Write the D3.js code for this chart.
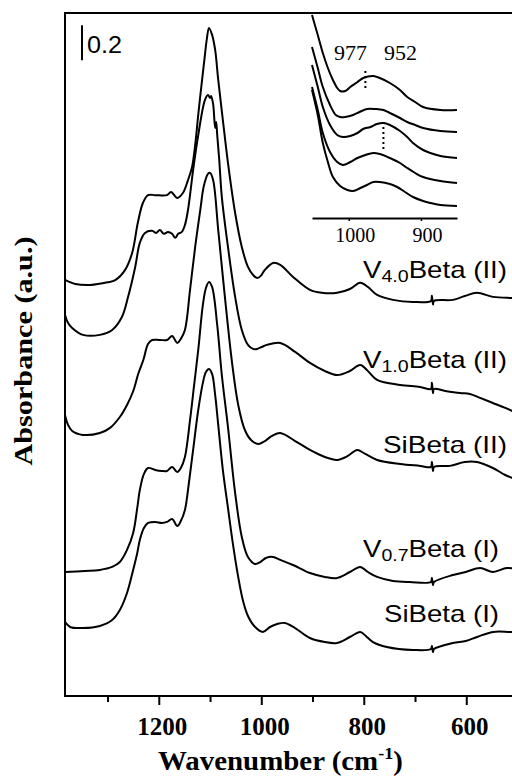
<!DOCTYPE html>
<html><head><meta charset="utf-8">
<script src="https://cdn.jsdelivr.net/npm/d3@7"></script>
<style>body{margin:0;background:#fff}svg{display:block}</style>
</head><body><svg id="c" width="512" height="776"></svg>
<script>
// ---------- data ----------
const labelBase = ["V", "V", "Si", "V", "Si"];
const labelSub  = ["4.0", "1.0", "", "0.7", ""];
const labelTail = ["Beta (II)", "Beta (II)", "Beta (II)", "Beta (I)", "Beta (I)"];
const xTicksMajor = [1200, 1000, 800, 600];
const xTicksMinor = [1300, 1100, 900, 700, 500];
const insetTicks = [1000, 900];
const insetMarks = [977, 952];
const insetMarkTop = [1.47, 0.96];
const insetMarkBottom = [1.30, 0.67];
const scaleBarValue = 0.2;

// [wavenumber, absorbance (offset)]
const sV40II = [[1383,2.376],[1363,2.353],[1334,2.347],[1300,2.362],[1285,2.375],[1266,2.432],[1252,2.530],[1241,2.701],[1231,2.815],[1221,2.860],[1207,2.860],[1184,2.860],[1176,2.878],[1164,2.844],[1153,2.872],[1143,2.946],[1135,3.021],[1129,3.146],[1123,3.318],[1116,3.506],[1110,3.660],[1106,3.757],[1102,3.815],[1096,3.775],[1090,3.689],[1084,3.518],[1075,3.290],[1065,3.044],[1051,2.758],[1038,2.564],[1026,2.450],[1016,2.404],[1008,2.387],[1001,2.399],[993,2.433],[977,2.473],[963,2.462],[938,2.393],[905,2.319],[882,2.302],[852,2.302],[827,2.324],[807,2.359],[792,2.336],[774,2.290],[743,2.262],[704,2.250],[669,2.256],[667,2.285],[665,2.235],[663,2.256],[626,2.262],[603,2.284],[579,2.302],[548,2.279],[515,2.273],[501,2.273]];
const sV10II = [[1383,2.176],[1377,2.130],[1369,2.102],[1348,2.062],[1315,2.062],[1291,2.090],[1272,2.164],[1260,2.278],[1246,2.450],[1237,2.587],[1227,2.644],[1213,2.656],[1205,2.644],[1198,2.661],[1190,2.639],[1182,2.650],[1174,2.639],[1168,2.616],[1162,2.639],[1155,2.650],[1149,2.689],[1143,2.775],[1133,3.003],[1123,3.203],[1110,3.403],[1104,3.432],[1100,3.415],[1098,3.426],[1094,3.381],[1090,3.244],[1088,3.278],[1086,3.204],[1082,3.061],[1077,2.850],[1065,2.564],[1051,2.279],[1038,2.090],[1026,2.005],[1016,1.982],[1008,1.982],[999,1.993],[989,2.005],[963,2.016],[934,1.965],[905,1.902],[876,1.856],[852,1.833],[827,1.856],[807,1.890],[792,1.856],[774,1.805],[729,1.776],[690,1.765],[669,1.753],[667,1.788],[665,1.730],[663,1.753],[641,1.742],[612,1.730],[593,1.725],[573,1.702],[548,1.673],[524,1.645],[501,1.616]];
const sSiII = [[1383,1.605],[1377,1.548],[1369,1.513],[1348,1.491],[1315,1.502],[1295,1.531],[1276,1.593],[1262,1.662],[1250,1.740],[1240,1.840],[1230,1.920],[1221,2.010],[1213,2.033],[1198,2.033],[1184,2.033],[1174,2.056],[1164,2.016],[1157,2.039],[1149,2.090],[1139,2.319],[1129,2.564],[1119,2.776],[1112,2.913],[1104,2.981],[1100,2.987],[1094,2.947],[1084,2.661],[1071,2.279],[1057,1.902],[1045,1.662],[1032,1.519],[1020,1.462],[1006,1.439],[993,1.456],[979,1.485],[963,1.502],[934,1.456],[905,1.405],[876,1.365],[852,1.348],[831,1.371],[813,1.405],[797,1.382],[774,1.348],[729,1.325],[690,1.314],[669,1.308],[667,1.336],[665,1.285],[663,1.308],[632,1.314],[603,1.336],[579,1.336],[548,1.302],[524,1.262],[501,1.234]];
const sV07I = [[1383,0.708],[1344,0.714],[1315,0.720],[1291,0.737],[1276,0.765],[1262,0.834],[1250,0.931],[1242,1.074],[1237,1.176],[1229,1.268],[1221,1.302],[1207,1.291],[1194,1.285],[1184,1.285],[1174,1.308],[1164,1.279],[1157,1.302],[1149,1.365],[1139,1.576],[1131,1.776],[1123,1.976],[1114,2.233],[1108,2.330],[1102,2.364],[1096,2.336],[1086,2.119],[1077,1.833],[1065,1.536],[1051,1.159],[1038,0.908],[1026,0.794],[1012,0.754],[1002,0.765],[991,0.788],[977,0.794],[963,0.777],[938,0.748],[905,0.702],[876,0.680],[852,0.674],[827,0.708],[807,0.737],[792,0.708],[774,0.680],[743,0.657],[710,0.651],[669,0.651],[667,0.674],[665,0.634],[663,0.651],[626,0.691],[601,0.708],[573,0.731],[548,0.708],[521,0.731],[501,0.725]];
const sSiI = [[1383,0.423],[1373,0.394],[1348,0.388],[1315,0.400],[1291,0.434],[1276,0.491],[1262,0.588],[1250,0.720],[1242,0.817],[1237,0.891],[1229,0.959],[1221,0.988],[1207,0.994],[1194,0.988],[1184,0.994],[1174,1.011],[1164,0.971],[1157,0.999],[1149,1.062],[1141,1.222],[1133,1.405],[1123,1.633],[1114,1.788],[1108,1.850],[1102,1.867],[1096,1.839],[1090,1.719],[1084,1.548],[1075,1.291],[1065,1.074],[1055,0.862],[1045,0.680],[1036,0.548],[1026,0.457],[1012,0.394],[997,0.366],[983,0.394],[969,0.411],[954,0.417],[934,0.388],[905,0.331],[876,0.308],[852,0.303],[827,0.337],[807,0.366],[796,0.343],[782,0.308],[755,0.280],[704,0.263],[669,0.268],[667,0.286],[665,0.251],[663,0.268],[626,0.303],[601,0.314],[579,0.337],[548,0.366],[515,0.366],[501,0.366]];

// inset spectra (1050-850 cm-1 region)
const inA = [[1051,2.03],[1043,1.83],[1036,1.65],[1029,1.50],[1022,1.38],[1016,1.30],[1012,1.27],[1005,1.27],[998,1.31],[988,1.36],[980,1.40],[966,1.42],[957,1.40],[943,1.35],[929,1.28],[919,1.21],[908,1.16],[897,1.11],[873,1.08],[850,1.08]];
const inB = [[1051,1.71],[1043,1.50],[1036,1.31],[1026,1.13],[1018,1.03],[1012,1.01],[1005,1.01],[994,1.03],[985,1.06],[975,1.09],[963,1.09],[952,1.08],[943,1.05],[929,1.00],[919,0.96],[908,0.93],[897,0.90],[873,0.87],[850,0.86]];
const inC = [[1051,1.53],[1043,1.31],[1036,1.11],[1026,0.93],[1016,0.83],[1008,0.81],[998,0.82],[988,0.85],[980,0.89],[970,0.91],[961,0.94],[952,0.95],[943,0.93],[929,0.87],[919,0.81],[911,0.75],[897,0.68],[887,0.65],[873,0.62],[850,0.60]];
const inD = [[1051,1.31],[1043,1.08],[1036,0.85],[1026,0.66],[1016,0.56],[1008,0.53],[998,0.56],[988,0.60],[977,0.63],[966,0.65],[957,0.64],[943,0.60],[929,0.55],[919,0.50],[908,0.45],[897,0.41],[873,0.37],[850,0.35]];
const inE = [[1051,1.28],[1043,1.03],[1036,0.75],[1029,0.56],[1022,0.41],[1012,0.32],[1002,0.28],[994,0.27],[984,0.30],[975,0.33],[966,0.36],[957,0.36],[943,0.34],[933,0.31],[922,0.26],[911,0.21],[897,0.17],[887,0.15],[873,0.13],[850,0.12]];

const mainSeries = [sV40II, sV10II, sSiII, sV07I, sSiI];
const insetSeries = [inA, inB, inC, inD, inE];

// ---------- layout ----------
const L = 65, T = 13, B = 696, R = 517;
const serif = "'Liberation Serif','Times New Roman',Times,serif";
const sans = "'Liberation Sans',Arial,Helvetica,sans-serif";
const svg = d3.select("#c");

const x = d3.scaleLinear().domain([1383, 501]).range([L, R]);
const y = d3.scaleLinear().domain([0, 3.9]).range([B, T]);

svg.append("defs").append("clipPath").attr("id", "clip")
  .append("rect").attr("x", L).attr("y", T).attr("width", R - L).attr("height", B - T);

const line = d3.line().x(d => x(d[0])).y(d => y(d[1])).curve(d3.curveCatmullRom.alpha(0.5));

svg.append("g").attr("clip-path", "url(#clip)")
  .selectAll("path").data(mainSeries).join("path")
  .attr("d", line).attr("fill", "none").attr("stroke", "#000")
  .attr("stroke-width", 2).attr("stroke-linejoin", "round");

// frame
svg.append("rect").attr("x", L).attr("y", T).attr("width", R - L).attr("height", B - T)
  .attr("fill", "none").attr("stroke", "#000").attr("stroke-width", 2);

// bottom axis
const axMaj = svg.append("g").attr("transform", `translate(0,${B})`)
  .call(d3.axisBottom(x).tickValues(xTicksMajor).tickSize(9).tickSizeOuter(0).tickPadding(12).tickFormat(d3.format("d")));
axMaj.select(".domain").remove();
axMaj.selectAll("line").attr("stroke", "#000").attr("stroke-width", 2);
axMaj.selectAll("text").attr("x", 3).attr("font-family", serif).attr("font-weight", "bold")
  .attr("font-size", 25).attr("fill", "#000");
const axMin = svg.append("g").attr("transform", `translate(0,${B})`)
  .call(d3.axisBottom(x).tickValues(xTicksMinor).tickSize(6).tickSizeOuter(0).tickFormat(""));
axMin.select(".domain").remove();
axMin.selectAll("line").attr("stroke", "#000").attr("stroke-width", 2);

// axis titles
const xt = svg.append("text").attr("x", 158).attr("y", 770)
  .attr("font-family", serif).attr("font-weight", "bold").attr("font-size", 27).attr("fill", "#000")
  .attr("textLength", 245).attr("lengthAdjust", "spacingAndGlyphs");
xt.append("tspan").text("Wavenumber (cm");
xt.append("tspan").attr("font-size", 17).attr("dy", -11).text("-1");
xt.append("tspan").attr("dy", 11).text(")");

svg.append("text").attr("transform", "translate(32,351) rotate(-90)")
  .attr("text-anchor", "middle").attr("font-family", serif).attr("font-weight", "bold")
  .attr("font-size", 26).attr("fill", "#000")
  .attr("textLength", 229).attr("lengthAdjust", "spacingAndGlyphs")
  .text("Absorbance (a.u.)");

// scale bar
svg.append("line").attr("x1", 82).attr("x2", 82)
  .attr("y1", y(3.83)).attr("y2", y(3.83 - scaleBarValue))
  .attr("stroke", "#000").attr("stroke-width", 2);
svg.append("text").attr("x", 87).attr("y", 53).attr("font-family", sans).attr("font-size", 24)
  .attr("fill", "#000").attr("textLength", 35).attr("lengthAdjust", "spacingAndGlyphs")
  .text(scaleBarValue.toString());

// series labels
const labelX = [363, 363, 383, 363, 384];
const labelY = [278, 368, 453, 557, 622];
const labelLen = [144, 144, 124, 136, 115];
labelBase.forEach((b, i) => {
  const t = svg.append("text").attr("x", labelX[i]).attr("y", labelY[i])
    .attr("font-family", sans).attr("font-size", 24).attr("fill", "#000")
    .attr("textLength", labelLen[i]).attr("lengthAdjust", "spacingAndGlyphs");
  t.append("tspan").text(b);
  if (labelSub[i]) {
    t.append("tspan").attr("font-size", 17).attr("dy", 4).text(labelSub[i]);
    t.append("tspan").attr("dy", -4).text(labelTail[i]);
  } else {
    t.append("tspan").text(labelTail[i]);
  }
});

// ---------- inset ----------
const xi = d3.scaleLinear().domain([1051, 850]).range([312, 457]);
const yi = d3.scaleLinear().domain([0, 2.05]).range([218, 13]);
const lineI = d3.line().x(d => xi(d[0])).y(d => yi(d[1])).curve(d3.curveCatmullRom.alpha(0.5));
svg.append("g").selectAll("path").data(insetSeries).join("path")
  .attr("d", lineI).attr("fill", "none").attr("stroke", "#000").attr("stroke-width", 2);

const axI = svg.append("g").attr("transform", "translate(0,218)")
  .call(d3.axisBottom(xi).tickValues(insetTicks).tickSize(3).tickSizeOuter(0).tickPadding(7).tickFormat(d3.format("d")));
axI.select(".domain").attr("stroke", "#000").attr("stroke-width", 2);
axI.selectAll("line").attr("stroke", "#000").attr("stroke-width", 1.5);
axI.selectAll("text").attr("x", 6).attr("font-family", serif).attr("font-size", 20).attr("fill", "#000");

svg.append("g").selectAll("line").data(insetMarks).join("line")
  .attr("x1", d => xi(d)).attr("x2", d => xi(d))
  .attr("y1", (d, i) => yi(insetMarkTop[i])).attr("y2", (d, i) => yi(insetMarkBottom[i]))
  .attr("stroke", "#000").attr("stroke-width", 2).attr("stroke-dasharray", "2,3");

const markDx = [-15, 17];
svg.append("g").selectAll("text").data(insetMarks).join("text")
  .attr("x", (d, i) => xi(d) + markDx[i]).attr("y", 60).attr("text-anchor", "middle")
  .attr("font-family", serif).attr("font-size", 22).attr("fill", "#000")
  .text(d => d);
</script></body></html>
